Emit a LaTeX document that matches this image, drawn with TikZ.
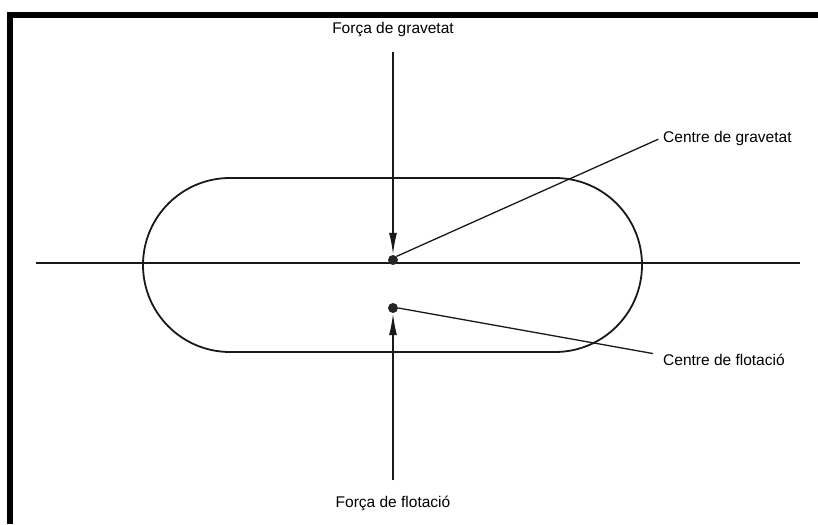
\documentclass[tikz,border=0pt]{standalone}
\usepackage{fontspec}
\setmainfont{Liberation Sans}
\usetikzlibrary{arrows.meta}
\begin{document}
\begin{tikzpicture}[x=1pt,y=1pt,
  lbl/.style={font=\fontsize{15.5}{18}\selectfont, inner sep=2pt},
  dot/.style={circle, fill=black!85, inner sep=0pt, minimum size=10pt},
  ln/.style={line width=1.8pt, black!90},
  force/.style={ln, -{Latex[length=22pt,width=8pt]}},
  lead/.style={line width=1.3pt, black!90}]
\useasboundingbox (0,0) rectangle (818,524);
\fill[white] (0,0) rectangle (818,524);
% frame bars
\fill[black] (7,506) rectangle (818,512);
\fill[black] (7,0) rectangle (13,512);
% horizontal axis
\draw[ln] (36,261) -- (800,261);
% stadium hull
\draw[ln] (230,346) -- (555,346) arc (90:-90:87) -- (230,172) arc (270:90:87) -- cycle;
% dots
\node[dot] (cg) at (393,264) {};
\node[dot] (cb) at (393,216) {};
% labels
\node[lbl] (fg) at (393,494) {Força de gravetat};
\node[lbl] (fb) at (393,21) {Força de flotació};
\node[lbl, anchor=west] (lg) at (661,386) {Centre de gravetat};
\node[lbl, anchor=west] (lf) at (661,164) {Centre de flotació};
% force arrows
\draw[force, shorten <=13pt] (fg.south) -- (cg.north);
\draw[force, shorten <=13pt] (fb.north) -- (cb.south);
% leaders
\draw[lead, shorten >=3pt] (cg.north east) -- (lg.west);
\draw[lead, shorten >=8pt] (cb.east) -- ([yshift=5pt]lf.west);
\end{tikzpicture}
\end{document}
